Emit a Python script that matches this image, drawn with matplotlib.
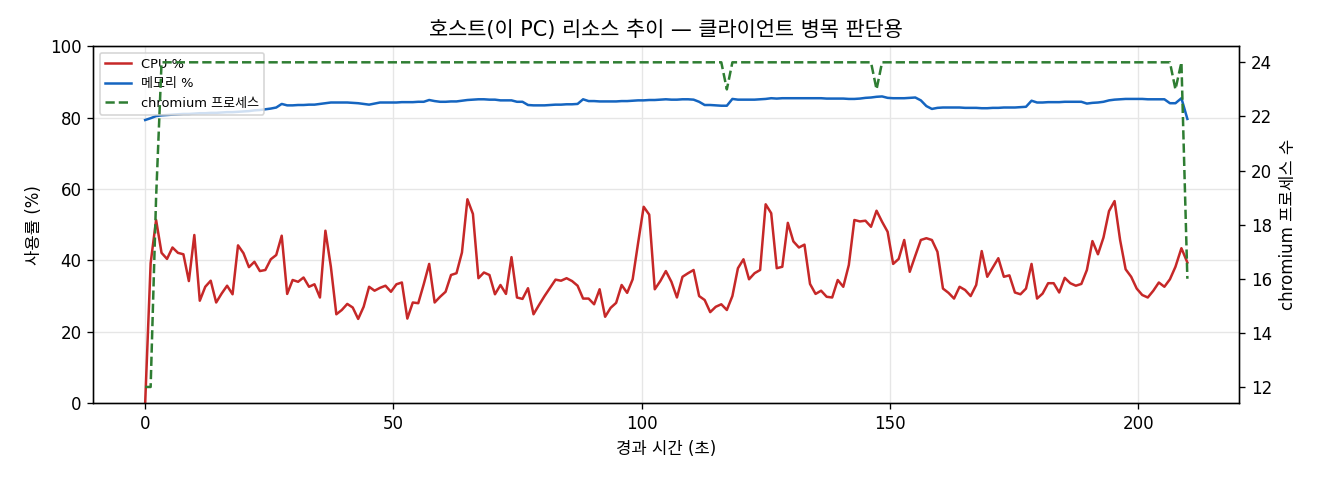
import numpy as np
import matplotlib
matplotlib.use("Agg")
import matplotlib.pyplot as plt

plt.rcParams['font.family'] = ['DejaVu Sans', 'Noto Sans CJK KR']

cpu = [0, 39.2, 51.3, 42.1, 40.4, 43.6, 42.1, 41.7, 34.2, 47.1, 28.7, 32.6, 34.3, 28.2, 30.7, 32.9, 30.5, 44.2, 42.0, 38.1,
       39.6, 37.0, 37.3, 40.3, 41.5, 46.9, 30.6, 34.5, 34.0, 35.2, 32.6, 33.3, 29.6, 48.3, 38.2, 24.9, 26.1, 27.8, 26.8, 23.6,
       27.0, 32.6, 31.5, 32.3, 32.9, 31.2, 33.3, 33.8, 23.7, 28.2, 28.0, 33.3, 39.0, 28.2, 29.8, 31.2, 35.9, 36.4, 42.2, 57.1,
       53.0, 35.0,
       36.6, 35.9, 30.5, 33.1, 30.6, 40.9, 29.6, 29.2, 32.2, 24.9, 27.5, 30.0, 32.3, 34.6, 34.3, 35.0, 34.2, 32.9, 29.3, 29.3,
       27.7, 31.9, 24.2, 26.7, 28.1, 33.1, 30.9, 34.7, 45.0, 55.0, 52.8, 31.9, 34.2, 37.0, 34.0, 29.6, 35.4, 36.4, 37.3, 30.0,
       28.9, 25.5, 27.0, 27.7, 26.1, 30.0, 37.8, 40.3, 34.7, 36.4, 37.3, 55.7, 53.2, 37.8, 38.2, 50.5, 45.3, 43.6, 44.4, 33.4,
       30.6, 31.5, 29.8, 29.6, 34.5, 32.6, 38.7, 51.3, 50.9, 51.1, 49.4, 53.9,
       50.8, 48.0, 39.0, 40.4, 45.7, 36.8, 41.3, 45.7, 46.2, 45.7, 42.4, 32.1, 30.9, 29.3, 32.6, 31.7, 30.0, 33.1, 42.6, 35.4,
       38.0, 40.6, 35.4, 35.8, 31.0, 30.5, 32.1, 39.0, 29.3, 30.7, 33.6, 33.6, 31.0, 35.1, 33.6, 32.9, 33.4, 37.3, 45.4, 41.7,
       46.4, 53.8, 56.6, 45.7, 37.5, 35.4, 32.1, 30.3, 29.6, 31.5, 33.8, 32.6, 34.7, 38.2, 43.4, 39.4]

mem = [79.3, 79.8, 80.4, 80.6, 80.7, 80.8, 80.9, 81.0, 81.0, 81.1, 81.2, 81.2, 81.3, 81.3, 81.4, 81.5, 81.5, 81.6, 81.7, 81.8,
       82.0, 82.1, 82.3, 82.5, 82.8, 83.8, 83.4, 83.4, 83.5, 83.5, 83.6, 83.6, 83.8, 84.0, 84.2, 84.2, 84.2, 84.2, 84.1, 84.0,
       83.8, 83.6, 83.9, 84.2, 84.2, 84.2, 84.2, 84.3, 84.3, 84.3, 84.4, 84.4, 84.9, 84.6, 84.4, 84.4, 84.5, 84.5, 84.7, 84.9,
       85.0, 85.1,
       85.1, 85.0, 85.0, 84.8, 84.8, 84.8, 84.4, 84.4, 83.5, 83.4, 83.4, 83.4, 83.5, 83.6, 83.6, 83.7, 83.7, 83.8, 85.1, 84.6,
       84.6, 84.5, 84.5, 84.5, 84.5, 84.6, 84.6, 84.7, 84.8, 84.8, 84.9, 84.9, 85.0, 85.1, 85.0, 85.0, 85.1, 85.1, 85.0, 84.4,
       83.5, 83.5, 83.4, 83.3, 83.3, 85.2, 85.0, 85.0, 85.0, 85.0, 85.1, 85.2, 85.4, 85.3, 85.4, 85.4, 85.4, 85.4, 85.4, 85.4,
       85.4, 85.4, 85.3, 85.3, 85.3, 85.3, 85.2, 85.2, 85.3, 85.5, 85.6, 85.8,
       85.9, 85.5, 85.4, 85.4, 85.4, 85.5, 85.6, 84.8, 83.2, 82.4, 82.7, 82.8, 82.8, 82.8, 82.8, 82.7, 82.7, 82.7, 82.6, 82.6,
       82.7, 82.7, 82.8, 82.8, 82.8, 82.9, 83.0, 84.7, 84.2, 84.2, 84.3, 84.3, 84.3, 84.4, 84.4, 84.4, 84.4, 83.9, 84.1, 84.2,
       84.4, 84.8, 85.0, 85.1, 85.2, 85.2, 85.2, 85.2, 85.1, 85.1, 85.1, 85.1, 84.0, 84.0, 85.4, 79.6]

chromium = [12, 12, 19] + [24] * 103 + [23] + [24] * 26 + [23] + [24] * 53 + [23, 24, 16]

# sample time stamps (s): read at a few sample indices, samples evenly spaced between them
time_idx = [0, 59, 91, 133, 187, 189]
time_sec = [0.0, 64.9, 100.4, 147.3, 207.5, 209.9]

n = len(cpu)
t = np.interp(np.arange(n), time_idx, time_sec)

fig = plt.figure(figsize=(11, 4), dpi=120)
ax = fig.add_axes([0.0705, 0.160, 0.8685, 0.744])
ax2 = ax.twinx()

l1, = ax.plot(t, cpu, color='#c62828', lw=1.5, label='CPU %')
l2, = ax.plot(t, mem, color='#1565c0', lw=1.5, label='메모리 %')
l3, = ax2.plot(t, chromium, color='#2e7d32', lw=1.5, ls='--', label='chromium 프로세스')

ax.set_ylim(0, 100)
ax.grid(True, color='#e6e6e6', lw=0.8)
ax.set_axisbelow(True)
ax.set_xlabel('경과 시간 (초)', fontsize=10)
ax.set_ylabel('사용률 (%)', fontsize=10)
ax2.set_ylabel('chromium 프로세스 수', fontsize=10)
ax.set_title('호스트(이 PC) 리소스 추이 — 클라이언트 병목 판단용', fontsize=12.5)
ax.tick_params(labelsize=10)
ax2.tick_params(labelsize=10)
ax.legend(handles=[l1, l2, l3], loc='upper left', fontsize=7.8, framealpha=0.8)

fig.savefig('out.png', dpi=120)
